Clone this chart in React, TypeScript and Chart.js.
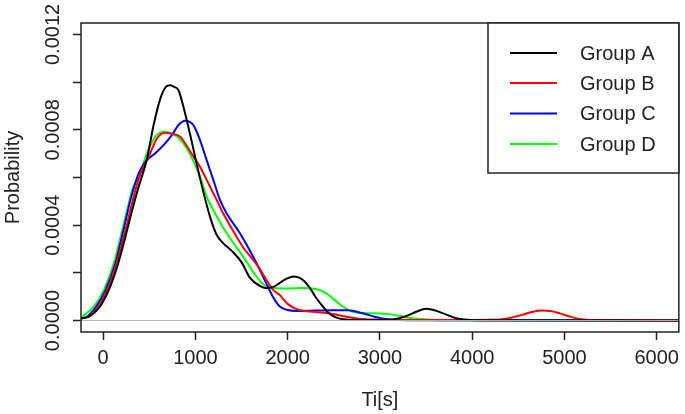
import React, { useEffect, useRef } from "react";
import { Chart, registerables } from "chart.js";

Chart.register(...registerables);

const xTicks = [0, 1000, 2000, 3000, 4000, 5000, 6000];
const yTicks = [0, 0.0002, 0.0004, 0.0006, 0.0008, 0.001, 0.0012];
const yLabelValues = [0, 0.0004, 0.0008, 0.0012];
const yLabelTexts = ["0.0000", "0.0004", "0.0008", "0.0012"];

const seriesNames = ["Group A", "Group B", "Group C", "Group D"];
const seriesColors = ["#000000", "#ff0000", "#0000ff", "#00ff00"];

const groupAX = [-240, -150, -45, 62, 153, 242, 315, 375, 476, 547, 619, 680, 727, 770, 817, 870, 943, 1015, 1086, 1158, 1230, 1300, 1400, 1500, 1590, 1697, 1770, 1840, 1912, 1990, 2070, 2150, 2235, 2300, 2380, 2450, 2530, 2630, 2800, 3000, 3150, 3280, 3400, 3500, 3600, 3700, 3815, 3950, 4100, 6240];
const groupAY = [0.000008, 0.000018, 0.000053, 0.000129, 0.000227, 0.000352, 0.000464, 0.000548, 0.00068, 0.00082, 0.00093, 0.00098, 0.000987, 0.00098, 0.000966, 0.000897, 0.00078, 0.000655, 0.00054, 0.000436, 0.00036, 0.000325, 0.00029, 0.000245, 0.00018, 0.000145, 0.000136, 0.00014, 0.000157, 0.000176, 0.000185, 0.000175, 0.00014, 0.0001, 0.00006, 0.00003, 0.000012, 0.000004, 0.000002, 0.000002, 0.000005, 0.000018, 0.000038, 0.000049, 0.000042, 0.000028, 0.000011, 0.000003, 0.000001, 0];

const groupBX = [-240, -150, -62, 45, 135, 224, 296, 350, 404, 494, 584, 673, 740, 835, 907, 975, 1050, 1158, 1230, 1301, 1446, 1530, 1625, 1700, 1769, 1840, 1912, 2000, 2092, 2235, 2400, 2522, 2650, 2774, 2950, 3130, 3400, 3800, 4200, 4400, 4550, 4650, 4750, 4850, 4950, 5050, 5180, 5350, 5600, 6240];
const groupBY = [0.000009, 0.000018, 0.000053, 0.000129, 0.000227, 0.000352, 0.000464, 0.000548, 0.000615, 0.000687, 0.000764, 0.000788, 0.000783, 0.000771, 0.000732, 0.00069, 0.000645, 0.000562, 0.000506, 0.00045, 0.000352, 0.0003, 0.000255, 0.000215, 0.000171, 0.00013, 0.000108, 0.00007, 0.000049, 0.000038, 0.000033, 0.000025, 0.000015, 0.000008, 0.000004, 0.000002, 0.000002, 0.000002, 0.000003, 0.00001, 0.000025, 0.000036, 0.000042, 0.00004, 0.00003, 0.000018, 0.000006, 0.000002, 0.000001, 0];

const groupCX = [-240, -180, -81, 27, 128, 215, 296, 386, 458, 566, 655, 745, 817, 889, 978, 1050, 1122, 1194, 1266, 1338, 1481, 1625, 1733, 1840, 1912, 1990, 2100, 2300, 2500, 2650, 2800, 2950, 3100, 3300, 6240];
const groupCY = [0.00001, 0.000015, 0.000055, 0.000129, 0.000234, 0.00037, 0.000506, 0.000618, 0.000666, 0.000702, 0.000736, 0.000778, 0.00082, 0.000838, 0.00082, 0.000757, 0.000673, 0.00059, 0.000506, 0.00045, 0.000367, 0.000269, 0.000185, 0.0001, 0.00006, 0.000045, 0.00004, 0.000042, 0.000043, 0.000043, 0.000032, 0.000015, 0.000005, 0.000001, 0];

const groupDX = [-240, -224, -99, 9, 116, 207, 278, 315, 386, 476, 566, 673, 781, 870, 943, 1050, 1122, 1194, 1338, 1517, 1661, 1769, 1876, 2000, 2150, 2307, 2415, 2500, 2594, 2700, 2850, 3000, 3100, 3205, 3350, 3500, 3650, 6240];
const groupDY = [0.000014, 0.0000176, 0.0000594, 0.000129, 0.000241, 0.00038, 0.000492, 0.000548, 0.000604, 0.000702, 0.000771, 0.000792, 0.000778, 0.000743, 0.000697, 0.000604, 0.00052, 0.000464, 0.000367, 0.000269, 0.000185, 0.000143, 0.000136, 0.000134, 0.000137, 0.000132, 0.000115, 0.00009, 0.00006, 0.000038, 0.000031, 0.00003, 0.000027, 0.00002, 0.00001, 0.000005, 0.000001, 0];

const seriesX = [groupAX, groupBX, groupCX, groupDX];
const seriesY = [groupAY, groupBY, groupCY, groupDY];

const X_MIN = -240;
const X_MAX = 6240;
const Y_MIN = -0.000048;
const Y_MAX = 0.001248;

const FONT = "'Liberation Sans', Arial, Helvetica, sans-serif";
const INK = "#222222";

const rDecor = {
  id: "rDecor",
  afterDatasetsDraw(chart: any) {
    const { ctx, chartArea, scales } = chart;
    const { left, top, right, bottom } = chartArea;
    ctx.save();
    // box
    ctx.strokeStyle = INK;
    ctx.lineWidth = 1.5;
    ctx.strokeRect(left, top, right - left, bottom - top);
    // y tick labels (rotated, R style)
    ctx.fillStyle = INK;
    ctx.font = `20px ${FONT}`;
    ctx.textAlign = "center";
    ctx.textBaseline = "middle";
    yLabelValues.forEach((v, i) => {
      const y = scales.y.getPixelForValue(v);
      ctx.save();
      ctx.translate(52, y);
      ctx.rotate(-Math.PI / 2);
      ctx.fillText(yLabelTexts[i], 0, 1);
      ctx.restore();
    });
    // legend
    const lx0 = 488;
    const ly0 = top;
    const lx1 = right;
    const ly1 = 173;
    ctx.fillStyle = "#ffffff";
    ctx.fillRect(lx0, ly0, lx1 - lx0, ly1 - ly0);
    ctx.strokeStyle = INK;
    ctx.lineWidth = 1.5;
    ctx.strokeRect(lx0, ly0, lx1 - lx0, ly1 - ly0);
    const rowY = [53, 83, 113.5, 144];
    seriesNames.forEach((name, i) => {
      ctx.strokeStyle = seriesColors[i];
      ctx.lineWidth = 2;
      ctx.beginPath();
      ctx.moveTo(510, rowY[i]);
      ctx.lineTo(557, rowY[i]);
      ctx.stroke();
      ctx.fillStyle = INK;
      ctx.textAlign = "left";
      ctx.textBaseline = "middle";
      ctx.fillText(name, 580, rowY[i] + 1);
    });
    ctx.restore();
  },
};

export default function App() {
  const ref = useRef<HTMLCanvasElement | null>(null);

  useEffect(() => {
    if (!ref.current) return;
    const datasets: any[] = [
      {
        label: "zero",
        data: [
          { x: X_MIN, y: 0 },
          { x: X_MAX, y: 0 },
        ],
        borderColor: "#b4b4b4",
        borderWidth: 1,
        pointRadius: 0,
      },
    ];
    seriesNames.forEach((name, i) => {
      datasets.push({
        label: name,
        data: seriesX[i].map((x, j) => ({ x, y: seriesY[i][j] })),
        borderColor: seriesColors[i],
        borderWidth: 2,
        pointRadius: 0,
        cubicInterpolationMode: "monotone",
        fill: false,
      });
    });

    const chart = new Chart(ref.current, {
      type: "line",
      data: { datasets },
      options: {
        animation: false,
        responsive: false,
        devicePixelRatio: 1,
        events: [],
        layout: { padding: { left: 0, top: 23, right: 2, bottom: 0 } },
        plugins: { legend: { display: false }, tooltip: { enabled: false } },
        scales: {
          x: {
            type: "linear",
            min: X_MIN,
            max: X_MAX,
            afterBuildTicks: (s: any) => {
              s.ticks = xTicks.map((v) => ({ value: v }));
            },
            afterFit: (s: any) => {
              s.height = 82;
            },
            border: { display: false },
            grid: {
              display: true,
              drawOnChartArea: false,
              drawTicks: true,
              tickLength: 8,
              tickColor: INK,
              tickWidth: 1.5,
            },
            ticks: {
              autoSkip: false,
              maxRotation: 0,
              minRotation: 0,
              padding: 6,
              color: INK,
              font: { family: FONT, size: 20 },
              callback: (v: any) => String(v),
            },
            title: {
              display: true,
              text: "Ti[s]",
              color: INK,
              font: { family: FONT, size: 20 },
              padding: { top: 0, bottom: 2 },
            },
          },
          y: {
            type: "linear",
            min: Y_MIN,
            max: Y_MAX,
            afterBuildTicks: (s: any) => {
              s.ticks = yTicks.map((v) => ({ value: v }));
            },
            afterFit: (s: any) => {
              s.width = 81;
            },
            border: { display: false },
            grid: {
              display: true,
              drawOnChartArea: false,
              drawTicks: true,
              tickLength: 8,
              tickColor: INK,
              tickWidth: 1.5,
            },
            ticks: { display: false },
            title: {
              display: true,
              text: "Probability",
              color: INK,
              font: { family: FONT, size: 20 },
              padding: { top: 1, bottom: 0 },
            },
          },
        },
      },
      plugins: [rDecor],
    });
    return () => chart.destroy();
  }, []);

  return (
    <div style={{ position: "absolute", left: 0, top: 0, width: 685, height: 414, background: "#fff" }}>
      <canvas ref={ref} width={685} height={414} />
    </div>
  );
}
